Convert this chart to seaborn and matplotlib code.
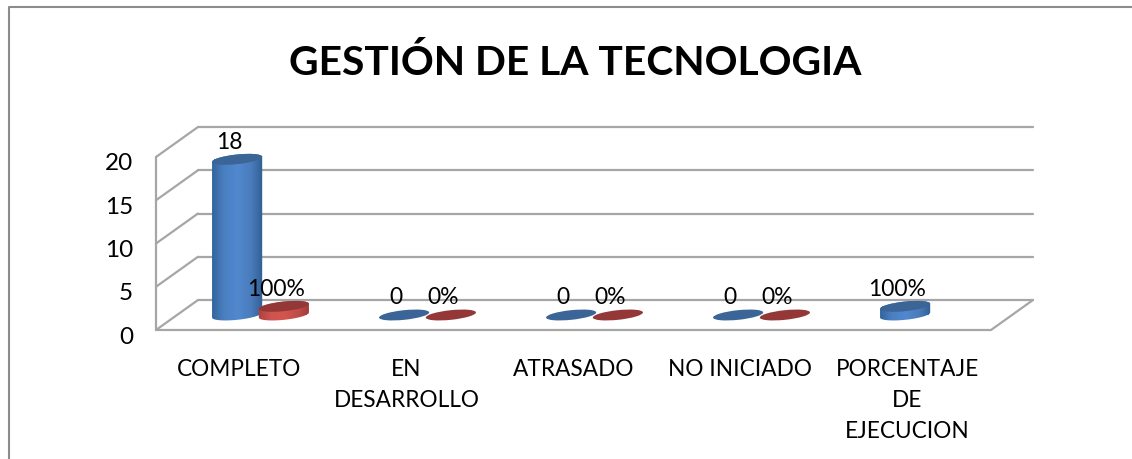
import numpy as np
import pandas as pd
import matplotlib
matplotlib.use("Agg")
import matplotlib.pyplot as plt
import seaborn as sns
from matplotlib.colors import LinearSegmentedColormap
from matplotlib.lines import Line2D
from matplotlib.patches import Ellipse
from matplotlib.path import Path
from matplotlib.transforms import Affine2D, IdentityTransform

categorias = ["COMPLETO", "EN\nDESARROLLO", "ATRASADO", "NO INICIADO", "PORCENTAJE\nDE\nEJECUCION"]
serie_1 = [18, 0, 0, 0, 1]
serie_2 = [1, 0, 0, 0, np.nan]
etiquetas_1 = ["18", "0", "0", "0", "100%"]
etiquetas_2 = ["100%", "0%", "0%", "0%", ""]
marcas_y = [0, 5, 10, 15, 20]
titulo = "GESTIÓN DE LA TECNOLOGIA"

sns.set_theme(style="white")
plt.rcParams["font.family"] = ["Lato", "DejaVu Sans"]

W, H = 1132, 460
fig = plt.figure(figsize=(W / 100, H / 100), dpi=100)
ax = fig.add_axes([156 / W, (H - 331) / H, 835 / W, 173 / H])

df = pd.DataFrame({
    "categoria": categorias * 2,
    "valor": serie_1 + serie_2,
    "serie": ["Serie 1"] * 5 + ["Serie 2"] * 5,
})
sns.barplot(data=df, x="categoria", y="valor", hue="serie", width=0.56,
            palette=["#4F81BD", "#C0504D"], legend=False, ax=ax, zorder=3)
ax.set_xlim(-0.5, 4.5)
ax.set_ylim(0, 20)
ax.set_xlabel("")
ax.set_ylabel("")
sns.despine(ax=ax, left=True, bottom=True, top=True, right=True)
ax.patch.set_alpha(0)

# Walls and floor of the 3D frame
PX_X = 167.0
PX_Y = 8.65
fondo_x, fondo_y = 42 / PX_X, 30 / PX_Y
gris = "#a6a6a6"
lw = 1.6
for v in marcas_y:
    ax.plot([-0.5, -0.5 + fondo_x], [v, v + fondo_y], color=gris, lw=lw, clip_on=False, zorder=1)
    ax.plot([-0.5 + fondo_x, 4.5 + fondo_x], [v + fondo_y, v + fondo_y], color=gris, lw=lw, clip_on=False, zorder=1)
ax.plot([-0.5, -0.5], [0, 20], color=gris, lw=lw, clip_on=False, zorder=1)
ax.plot([-0.5, 4.5, 4.5 + fondo_x], [0, 0, fondo_y], color=gris, lw=lw, clip_on=False, zorder=1)

ax.set_yticks(marcas_y)
ax.tick_params(axis="y", length=0, pad=16.5, labelsize=17.5, labelcolor="black")
ax.tick_params(axis="x", length=0, pad=20, labelsize=16.3, labelcolor="black")
ax.set_xticks(range(5))
ax.set_xticklabels(categorias, linespacing=1.6)
for t in ax.get_yticklabels():
    t.set_transform(t.get_transform() + Affine2D().translate(0, -4))

# Cylinders: seaborn's bars are pushed to mid depth, then shaded
DX, DY = 21, 15
A, B, ANG = 25.2, 4.8, 6.0
theta = np.deg2rad(ANG)
azul = LinearSegmentedColormap.from_list("a", ["#2f5f95", "#4a7fc0", "#5188cf", "#4a7cbc", "#2c5a8c"])
rojo = LinearSegmentedColormap.from_list("r", ["#a83f3c", "#cf5350", "#d4554f", "#c04c48", "#9a3835"])
tapas = ["#3a6596", "#933836"]
cmapas = [azul, rojo]
etiquetas = [etiquetas_1, etiquetas_2]
gradiente = np.linspace(0, 1, 128).reshape(1, -1)
inv = ax.transData.inverted()
desplaza = ax.transData + Affine2D().translate(DX, DY)


def elipse(cx, cy, ts):
    x = cx + A * np.cos(ts) * np.cos(theta) - B * np.sin(ts) * np.sin(theta)
    y = cy + A * np.cos(ts) * np.sin(theta) + B * np.sin(ts) * np.cos(theta)
    return np.column_stack([x, y])


for s, cont in enumerate(ax.containers):
    for rect in cont:
        h = rect.get_height()
        if np.isnan(h):
            continue
        rect.set_transform(desplaza)
        rect.set_linewidth(0)
        rect.set_clip_on(False)
        xc = rect.get_x() + rect.get_width() / 2
        px, py = desplaza.transform((xc, 0))
        _, ptop = desplaza.transform((xc, h))
        if h > 0:
            rect.set_facecolor(cmapas[s](0.5))
            abajo = elipse(px, py, np.linspace(np.pi, 2 * np.pi, 40))
            arriba = elipse(px, ptop, np.linspace(0, np.pi, 40))
            silueta = Path(np.vstack([abajo, arriba, abajo[:1]]), closed=True)
            (x0, y0) = inv.transform((px - A - 2, py - 12))
            (x1, y1) = inv.transform((px + A + 2, ptop + 12))
            im = ax.imshow(gradiente, cmap=cmapas[s], extent=(x0, x1, y0, y1),
                           aspect="auto", zorder=4 + s)
            im.set_clip_box(fig.bbox)
            im.set_clip_path(silueta, IdentityTransform())
        else:
            rect.set_visible(False)
        ax.add_patch(Ellipse((px, ptop), 2 * A, 2 * B, angle=ANG, facecolor=tapas[s],
                             edgecolor="none", transform=IdentityTransform(), zorder=4.5 + s,
                             clip_on=False))
        i = int(round(xc))
        ax.text(px - 8, ptop + 18, etiquetas[s][i], transform=IdentityTransform(),
                ha="center", va="center", fontsize=16.5, color="black", zorder=8)

ax.set_xlim(-0.5, 4.5)
ax.set_ylim(0, 20)

fig.text(575 / W, 1 - 63 / H, titulo, ha="center", va="center", fontsize=29.3,
         fontweight="bold", color="black")
x_borde, y_borde = 9 / W, 1 - 8 / H
fig.add_artist(Line2D([x_borde, x_borde, 1], [0, y_borde, y_borde], transform=fig.transFigure,
                      color="#8c8c8c", lw=1.5))
fig.savefig("out.png", dpi=100, facecolor="white")
